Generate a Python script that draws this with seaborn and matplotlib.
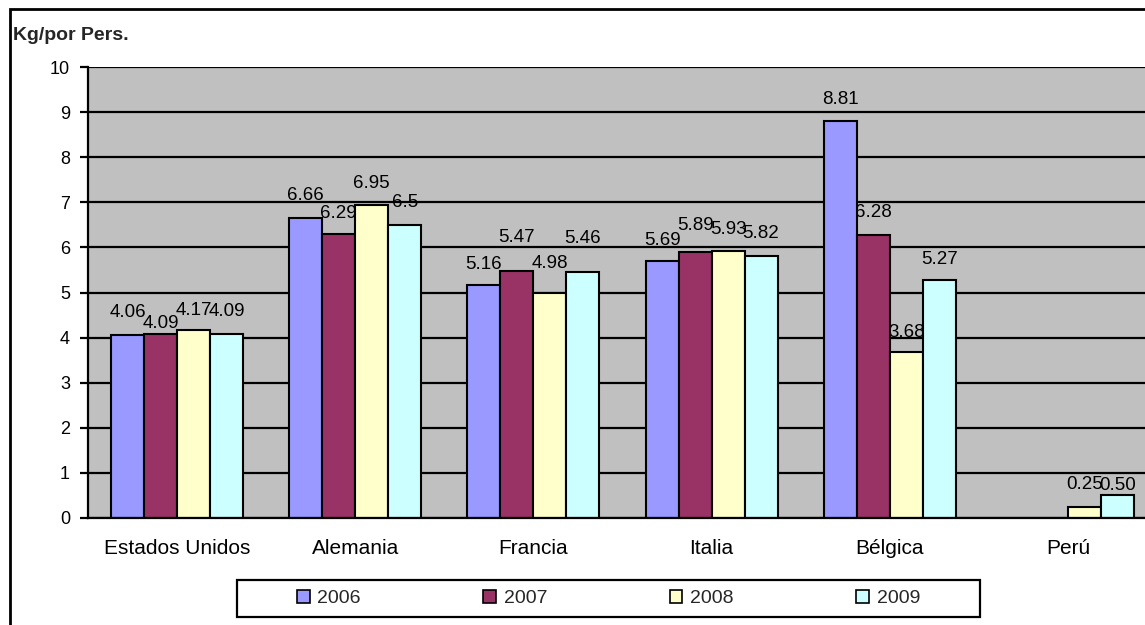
import numpy as np
import pandas as pd
import matplotlib
matplotlib.use("Agg")
import matplotlib.pyplot as plt
import seaborn as sns
from matplotlib.patches import Patch, Rectangle

# ---- data ----
countries = ["Estados Unidos", "Alemania", "Francia", "Italia", "Bélgica", "Perú"]
years = ["2006", "2007", "2008", "2009"]
v2006 = [4.06, 6.66, 5.16, 5.69, 8.81, np.nan]
v2007 = [4.09, 6.29, 5.47, 5.89, 6.28, np.nan]
v2008 = [4.17, 6.95, 4.98, 5.93, 3.68, 0.25]
v2009 = [4.09, 6.5, 5.46, 5.82, 5.27, 0.50]
lab2006 = ["4.06", "6.66", "5.16", "5.69", "8.81", ""]
lab2007 = ["4.09", "6.29", "5.47", "5.89", "6.28", ""]
lab2008 = ["4.17", "6.95", "4.98", "5.93", "3.68", "0.25"]
lab2009 = ["4.09", "6.5", "5.46", "5.82", "5.27", "0.50"]
yticks = list(range(0, 11))
ylabel_text = "Kg/por Pers."

# ---- styling (positions / sizes, separate from the data) ----
colors = ["#9999FF", "#993366", "#FFFFCC", "#CCFFFF"]
# label centre offset above bar top, in pixels
off2006 = [22, 22, 21, 21, 21, 0]
off2007 = [10, 21, 34, 27, 22, 0]
off2008 = [19, 21, 30, 21, 20, 22]
off2009 = [22, 22, 33, 22, 21, 10]

values = [v2006, v2007, v2008, v2009]
labels = [lab2006, lab2007, lab2008, lab2009]
offsets = [off2006, off2007, off2008, off2009]

rows = []
for y, vals in zip(years, values):
    for c, v in zip(countries, vals):
        rows.append({"pais": c, "anio": y, "valor": v})
df = pd.DataFrame(rows).dropna()

sns.set_style("white")
plt.rcParams["font.family"] = ["Liberation Sans", "DejaVu Sans"]

W, H = 1145, 625
fig = plt.figure(figsize=(W / 100, H / 100), dpi=100)

# outer chart frame (extends beyond the image on right/bottom)
fig.patches.append(Rectangle((10 / W, -0.1), 1.2, 1 - 9 / H + 0.1,
                             transform=fig.transFigure, fill=False,
                             edgecolor="black", linewidth=2, zorder=0))

ax = fig.add_axes([88 / W, 107 / H, 1069 / W, 451 / H])
ax.set_facecolor("#C0C0C0")

sns.barplot(data=df, x="pais", y="valor", hue="anio", order=countries,
            hue_order=years, palette=dict(zip(years, colors)), saturation=1,
            width=0.74, edgecolor="black", linewidth=1.5, errorbar=None,
            legend=False, ax=ax, zorder=3)

ax.set_xlim(-0.5, 5.5)
ax.set_ylim(0, 10)
ax.set_yticks(yticks)
ax.set_axisbelow(True)
ax.yaxis.grid(True, color="black", linewidth=1.6)
ax.xaxis.grid(False)
for s in ["top", "right"]:
    ax.spines[s].set_visible(False)
for s in ["left", "bottom"]:
    ax.spines[s].set_color("black")
    ax.spines[s].set_linewidth(1.6)
    ax.spines[s].set_zorder(4)

ax.set_xlabel("")
ax.set_ylabel("")
ax.set_xticks(range(len(countries)))
ax.set_xticklabels(countries, fontsize=15)
ax.set_xticks(np.arange(-0.5, len(countries), 1.0), minor=True)
ax.tick_params(axis="x", which="major", length=0, pad=15, colors="black")
ax.tick_params(axis="x", which="minor", length=5, width=1.6, direction="out",
               color="black")
ax.tick_params(axis="y", which="major", length=6, width=1.6, direction="out",
               pad=7, labelsize=13, colors="black", left=True)

# data labels
for j, cont in enumerate(ax.containers):
    for bar in cont:
        h = bar.get_height()
        if not np.isfinite(h):
            continue
        xc = bar.get_x() + bar.get_width() / 2
        i = int(round(xc))
        txt = labels[j][i]
        if not txt:
            continue
        ax.annotate(txt, (xc, h), xytext=(0, offsets[j][i] * 0.72),
                    textcoords="offset points", ha="center", va="center",
                    fontsize=13.5, color="black", zorder=5)

# y-axis title
fig.text(13 / W, 1 - 35 / H, ylabel_text, fontsize=14, fontweight="bold",
         ha="left", va="center")

# legend box and entries
fig.patches.append(Rectangle((237 / W, 1 - 617 / H), (980 - 237) / W, 37 / H,
                             transform=fig.transFigure, facecolor="white",
                             edgecolor="black", linewidth=1.6, zorder=1))
handles = [Patch(facecolor=c, edgecolor="black", linewidth=1.2) for c in colors]
leg = fig.legend(handles, years, loc="center",
                 bbox_to_anchor=(608.5 / W, 1 - 598.5 / H), ncol=4,
                 frameon=False, fontsize=14, handlelength=0.65,
                 handleheight=0.65, handletextpad=0.4, columnspacing=6.3)
leg.set_zorder(2)

fig.savefig("out.png", dpi=100)
